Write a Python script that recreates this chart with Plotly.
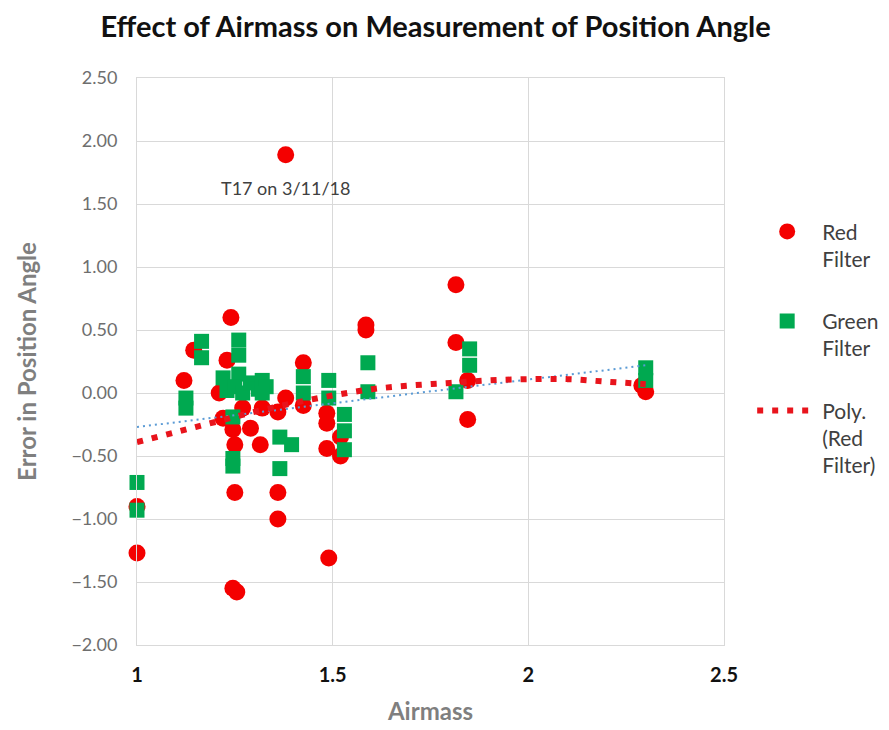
import plotly.graph_objects as go

# values
red_x = [1.00, 1.00, 1.12, 1.145, 1.24, 1.245, 1.255, 1.25, 1.36, 1.36, 1.49, 1.38, 1.23,
         1.21, 1.22, 1.245, 1.25, 1.29, 1.315, 1.27, 1.32, 1.36, 1.38, 1.425, 1.425, 1.485,
         1.485, 1.485, 1.52, 1.52, 1.585, 1.585, 1.815, 1.815, 1.845, 1.845, 2.30, 2.29]
red_y = [-0.90, -1.27, 0.10, 0.34, 0.60, -1.55, -1.58, -0.79, -0.79, -1.00, -1.31, 1.89, 0.26,
         0.00, -0.20, -0.29, -0.41, -0.28, -0.41, -0.12, -0.12, -0.15, -0.04, -0.10, 0.24, -0.24,
         -0.44, -0.16, -0.35, -0.50, 0.54, 0.50, 0.86, 0.40, 0.10, -0.21, 0.01, 0.06]

green_x = [1.00, 1.00, 1.125, 1.125, 1.165, 1.165, 1.26, 1.26, 1.26, 1.22, 1.23, 1.25, 1.27,
           1.29, 1.31, 1.32, 1.33, 1.32, 1.245, 1.245, 1.245, 1.365, 1.365, 1.395, 1.425, 1.425,
           1.49, 1.49, 1.53, 1.53, 1.53, 1.59, 1.59, 1.85, 1.85, 1.815, 2.30, 2.30]
green_y = [-0.71, -0.93, -0.04, -0.12, 0.41, 0.28, 0.42, 0.30, 0.15, 0.12, 0.02, 0.05, 0.00,
           0.08, 0.03, 0.10, 0.05, 0.00, -0.19, -0.52, -0.58, -0.35, -0.60, -0.41, 0.13, 0.00,
           0.10, -0.04, -0.17, -0.30, -0.45, 0.24, 0.01, 0.35, 0.22, 0.01, 0.20, 0.10]

# trendlines as drawn in the reference
poly_x = [1.0, 1.1, 1.2, 1.3, 1.4, 1.5, 1.6, 1.7, 1.8, 1.9, 2.0, 2.1, 2.2, 2.3]
poly_y = [-0.39, -0.31, -0.23, -0.15, -0.08, -0.02, 0.03, 0.06, 0.08, 0.10, 0.11, 0.11, 0.09, 0.07]
lin_x = [1.0, 2.3]
lin_y = [-0.27, 0.22]

x_ticks = [1, 1.5, 2, 2.5]
x_tick_text = ["1", "1.5", "2", "2.5"]

FONT = "Lato"
GRID = "#d9d9d9"

fig = go.Figure()

fig.add_trace(go.Scatter(x=red_x, y=red_y, mode="markers", name="Red<br>Filter", legendgroup="r",
                         cliponaxis=False,
                         marker=dict(symbol="circle", size=17, color="#f40000")))
fig.add_trace(go.Scatter(x=green_x, y=green_y, mode="markers", name="Green<br>Filter", legendgroup="g",
                         cliponaxis=False,
                         marker=dict(symbol="square", size=15, color="#00a950")))
fig.add_trace(go.Scatter(x=lin_x, y=lin_y, mode="lines", showlegend=False,
                         line=dict(color="#5b9bd5", width=2, dash="2px,4px")))
fig.add_trace(go.Scatter(x=poly_x, y=poly_y, mode="lines", name="Poly.<br>(Red<br>Filter)",
                         legendgroup="p", line=dict(color="#e8141c", width=6, dash="6px,9px",
                                                    shape="spline")))

fig.add_annotation(x=1.38, y=1.89, text="T17 on 3/11/18", showarrow=False, yshift=-33,
                   font=dict(family=FONT, size=18, color="#404040"))

# the page adds an 8px body margin, so the margins are offset by it
fig.update_layout(
    width=889, height=730,
    margin=dict(l=129, r=173, t=70, b=93),
    paper_bgcolor="white", plot_bgcolor="white",
    title=dict(text="<b>Effect of Airmass on Measurement of Position Angle</b>",
               x=0.481, xanchor="center", y=0.974, yanchor="middle",
               font=dict(family=FONT, size=29, color="#111111")),
    showlegend=True,
    legend=dict(x=1.048, xanchor="left", y=0.765, yanchor="top", itemwidth=60, valign="top",
                tracegroupgap=32, font=dict(family=FONT, size=21, color="#404040"),
                bgcolor="rgba(0,0,0,0)"),
)

fig.update_xaxes(range=[1, 2.5], tickvals=x_ticks, ticktext=x_tick_text, automargin=False,
                 showgrid=True, gridcolor=GRID, gridwidth=1, zeroline=False,
                 showline=True, linecolor=GRID, mirror=True, ticks="", ticklabelstandoff=12,
                 tickfont=dict(family=FONT, size=20, color="#111111", weight="bold"),
                 title=dict(text="<b>Airmass</b>", standoff=18,
                            font=dict(family=FONT, size=24, color="#7f7f7f")))
fig.update_yaxes(range=[-2, 2.5], dtick=0.5, tickformat=".2f", automargin=False,
                 showgrid=True, gridcolor=GRID, gridwidth=1, zeroline=False,
                 showline=True, linecolor=GRID, mirror=True, ticks="", ticklabelstandoff=15,
                 tickfont=dict(family=FONT, size=18, color="#6e6e6e"),
                 title=dict(text="<b>Error in Position Angle</b>", standoff=27,
                            font=dict(family=FONT, size=24, color="#7f7f7f")))

fig.write_html("out.html")
